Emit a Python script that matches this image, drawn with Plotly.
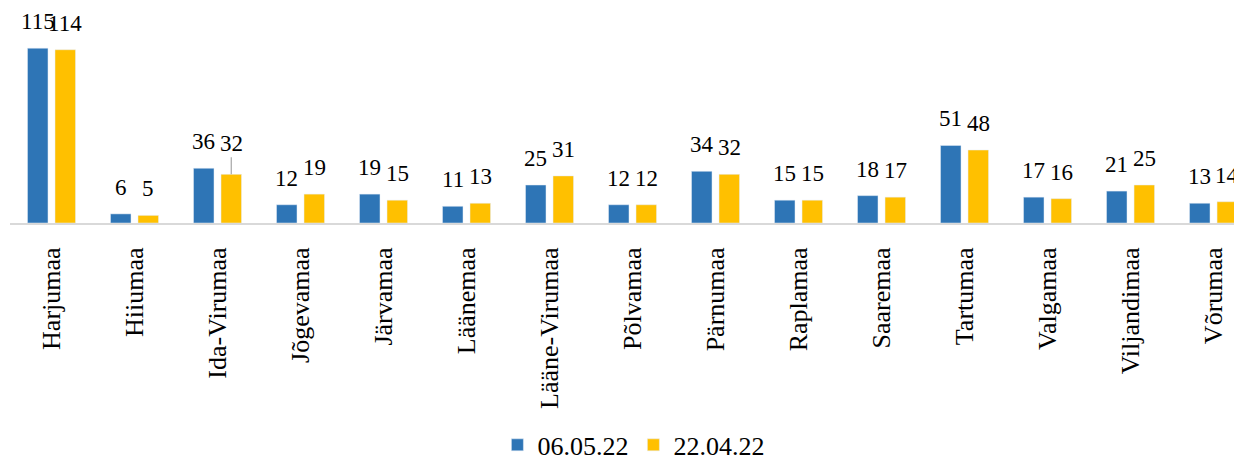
import plotly.graph_objects as go

# counties and the two survey dates
counties = ['Harjumaa', 'Hiiumaa', 'Ida-Virumaa', 'Jõgevamaa', 'Järvamaa', 'Läänemaa',
            'Lääne-Virumaa', 'Põlvamaa', 'Pärnumaa', 'Raplamaa', 'Saaremaa', 'Tartumaa',
            'Valgamaa', 'Viljandimaa', 'Võrumaa']
values_0605 = [115, 6, 36, 12, 19, 11, 25, 12, 34, 15, 18, 51, 17, 21, 13]
values_2204 = [114, 5, 32, 19, 15, 13, 31, 12, 32, 15, 17, 48, 16, 25, 14]

FONT = 'Liberation Serif'
BLUE = '#2E75B6'
GOLD = '#FFC000'

fig = go.Figure()
fig.add_trace(go.Bar(x=counties, y=values_0605, name='06.05.22', marker_color=BLUE))
fig.add_trace(go.Bar(x=counties, y=values_2204, name='22.04.22', marker_color=GOLD))

# value labels above each bar; one label was pulled up with a leader line
annotations = []
for vals, shift, name in ((values_0605, -13.75, 'a'), (values_2204, 13.75, 'b')):
    for c, v in zip(counties, vals):
        lifted = (name == 'b' and c == 'Ida-Virumaa')
        ann = dict(
            x=c, y=v, xref='x', yref='y', text=str(v), showarrow=False,
            xshift=shift, yshift=12, yanchor='bottom',
            font=dict(family=FONT, size=23, color='#000000'))
        if lifted:
            ann.update(showarrow=True, arrowhead=0, arrowwidth=1.2, arrowcolor='#A6A6A6',
                       ax=0, ay=-31, standoff=0, yshift=0, yanchor='middle')
        annotations.append(ann)

# the page body has an 8px margin, so the figure is shrunk by that much
fig.update_layout(
    width=1234, height=447,
    margin=dict(l=2, r=0, t=25, b=232, autoexpand=False),
    paper_bgcolor='white', plot_bgcolor='white',
    barmode='group', bargap=0.337, bargroupgap=0.255,
    font=dict(family=FONT, size=26, color='#000000'),
    showlegend=True,
    legend=dict(orientation='h', x=0.506, xanchor='center', y=-1.168, yanchor='middle',
                font=dict(family=FONT, size=26, color='#000000'), itemwidth=30,
                traceorder='normal'),
    xaxis=dict(range=[-0.5, 14.343], tickangle=-90, showline=True, linecolor='#D9D9D9',
               linewidth=2, showgrid=False, ticks='', ticklabelstandoff=12,
               automargin=False, tickfont=dict(family=FONT, size=26, color='#000000')),
    yaxis=dict(range=[0, 125], visible=False, showgrid=False, zeroline=False),
    annotations=annotations,
)

fig.write_html("out.html")
